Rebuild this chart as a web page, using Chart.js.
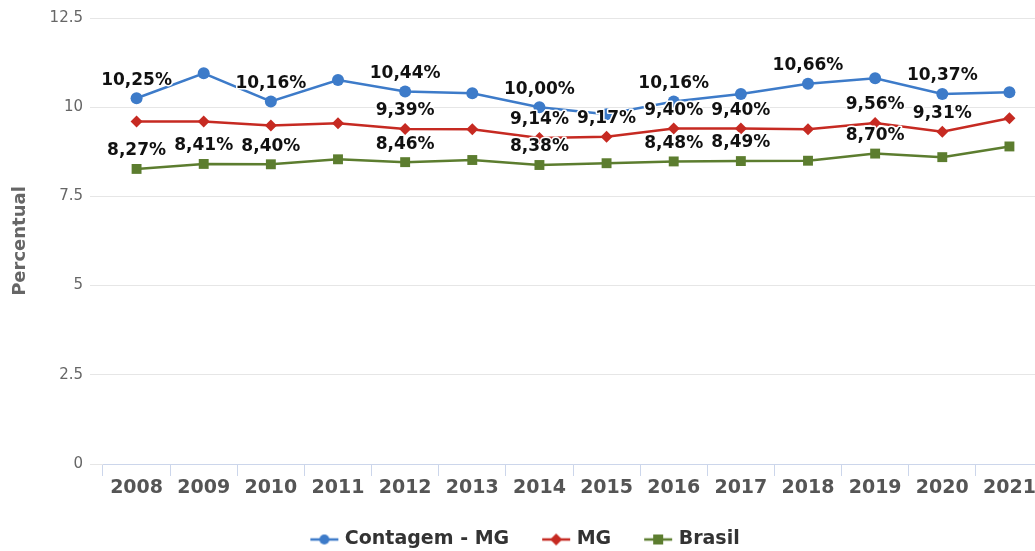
<!DOCTYPE html>
<html>
<head>
<meta charset="utf-8">
<script src="https://cdn.jsdelivr.net/npm/chart.js@4.4.1/dist/chart.umd.min.js"></script>
<style>
  html, body { margin: 0; padding: 0; background: #fff; overflow: hidden; }
  #wrap { width: 1050px; height: 551px; position: relative; }
</style>
</head>
<body>
<div id="wrap"><canvas id="lineChart"></canvas></div>
<script>
const years = ['2008', '2009', '2010', '2011', '2012', '2013', '2014', '2015', '2016', '2017', '2018', '2019', '2020', '2021'];

const contagemValues = [10.25, 10.95, 10.16, 10.76, 10.44, 10.39, 10.00, 9.80, 10.16, 10.37, 10.66, 10.81, 10.37, 10.42];
const mgValues = [9.60, 9.60, 9.49, 9.55, 9.39, 9.38, 9.14, 9.17, 9.40, 9.40, 9.38, 9.56, 9.31, 9.69];
const brasilValues = [8.27, 8.41, 8.40, 8.54, 8.46, 8.52, 8.38, 8.43, 8.48, 8.49, 8.50, 8.70, 8.60, 8.90];

// rótulos visíveis no gráfico (null = sem rótulo)
const contagemLabels = ['10,25%', null, '10,16%', null, '10,44%', null, '10,00%', null, '10,16%', null, '10,66%', null, '10,37%', null];
const mgLabels = [null, null, null, null, '9,39%', null, '9,14%', '9,17%', '9,40%', '9,40%', null, '9,56%', '9,31%', null];
const brasilLabels = ['8,27%', '8,41%', '8,40%', null, '8,46%', null, '8,38%', null, '8,48%', '8,49%', null, '8,70%', null, null];

const yTicks = [0, 2.5, 5, 7.5, 10, 12.5];

const BLUE = '#3d7bc9';
const RED = '#c62a22';
const GREEN = '#5c7d2f';
const FONT = '"DejaVu Sans", sans-serif';

// ícone da legenda: linha + marcador, um pouco deslocado para perto do texto
const ICON_BOX = 30;
function makeLegendIcon(color, style) {
  const c = document.createElement('canvas');
  c.width = ICON_BOX + 10;
  c.height = 14;
  const ctx = c.getContext('2d');
  const cx = c.width - 16;
  ctx.strokeStyle = color;
  ctx.lineWidth = 2.5;
  ctx.beginPath();
  ctx.moveTo(cx - 14, 7);
  ctx.lineTo(cx + 14, 7);
  ctx.stroke();
  ctx.fillStyle = color;
  ctx.beginPath();
  if (style === 'circle') {
    ctx.arc(cx, 7, 5, 0, Math.PI * 2);
  } else if (style === 'rectRot') {
    ctx.moveTo(cx, 1); ctx.lineTo(cx + 6, 7); ctx.lineTo(cx, 13); ctx.lineTo(cx - 6, 7); ctx.closePath();
  } else {
    ctx.rect(cx - 5, 2, 10, 10);
  }
  ctx.fill();
  return c;
}

const legendIcons = [
  makeLegendIcon(BLUE, 'circle'),
  makeLegendIcon(RED, 'rectRot'),
  makeLegendIcon(GREEN, 'rect')
];

const pointLabelsPlugin = {
  id: 'pointLabels',
  afterDatasetsDraw(chart) {
    const ctx = chart.ctx;
    ctx.save();
    ctx.font = 'bold 17px ' + FONT;
    ctx.textAlign = 'center';
    ctx.textBaseline = 'middle';
    ctx.lineJoin = 'round';
    chart.data.datasets.forEach((ds, i) => {
      const meta = chart.getDatasetMeta(i);
      meta.data.forEach((pt, j) => {
        const txt = ds.pointLabels[j];
        if (!txt) return;
        const y = pt.y - 18;
        ctx.strokeStyle = '#ffffff';
        ctx.lineWidth = 3;
        ctx.strokeText(txt, pt.x, y);
        ctx.fillStyle = '#111111';
        ctx.fillText(txt, pt.x, y);
      });
    });
    ctx.restore();
  }
};

const ctx = document.getElementById('lineChart').getContext('2d');

new Chart(ctx, {
  type: 'line',
  data: {
    labels: years,
    datasets: [
      {
        label: 'Contagem - MG',
        data: contagemValues,
        pointLabels: contagemLabels,
        borderColor: BLUE,
        backgroundColor: BLUE,
        borderWidth: 2.5,
        pointStyle: 'circle',
        pointRadius: 6,
        pointBorderWidth: 0,
        tension: 0
      },
      {
        label: 'MG',
        data: mgValues,
        pointLabels: mgLabels,
        borderColor: RED,
        backgroundColor: RED,
        borderWidth: 2.5,
        pointStyle: 'rectRot',
        pointRadius: 6,
        pointBorderWidth: 0,
        tension: 0
      },
      {
        label: 'Brasil',
        data: brasilValues,
        pointLabels: brasilLabels,
        borderColor: GREEN,
        backgroundColor: GREEN,
        borderWidth: 2.5,
        pointStyle: 'rect',
        pointRadius: 7,
        pointBorderWidth: 0,
        tension: 0
      }
    ]
  },
  options: {
    responsive: true,
    maintainAspectRatio: false,
    animation: false,
    layout: { padding: { top: 18, right: 5, bottom: -8, left: 0 } },
    plugins: {
      tooltip: { enabled: false },
      legend: {
        position: 'bottom',
        labels: {
          usePointStyle: true,
          pointStyleWidth: ICON_BOX,
          color: '#333333',
          padding: 28,
          font: { family: FONT, size: 19, weight: 'bold' },
          generateLabels(chart) {
            const items = Chart.defaults.plugins.legend.labels.generateLabels(chart);
            items.forEach((it, i) => { it.pointStyle = legendIcons[i]; });
            return items;
          }
        }
      }
    },
    scales: {
      x: {
        offset: true,
        afterFit(scale) {
          scale.height = 38;
        },
        grid: { display: true, offset: true, drawOnChartArea: false, drawTicks: true, tickLength: 12, color: '#ccd6eb' },
        border: { display: true, color: '#ccd6eb' },
        ticks: { color: '#555555', padding: 1, font: { family: FONT, size: 19, weight: 'bold' } }
      },
      y: {
        min: 0,
        max: 12.5,
        afterBuildTicks(scale) {
          scale.ticks = yTicks.map(v => ({ value: v }));
        },
        afterFit(scale) {
          scale.width = 103;
        },
        grid: { color: '#e6e6e6', tickLength: 13, drawTicks: true },
        border: { display: false },
        ticks: { color: '#666666', padding: 7, font: { family: FONT, size: 15 } },
        title: {
          display: true,
          text: 'Percentual',
          color: '#666666',
          padding: { top: 10, bottom: 0 },
          font: { family: FONT, size: 18, weight: 'bold' }
        }
      }
    }
  },
  plugins: [pointLabelsPlugin]
});
</script>
</body>
</html>
